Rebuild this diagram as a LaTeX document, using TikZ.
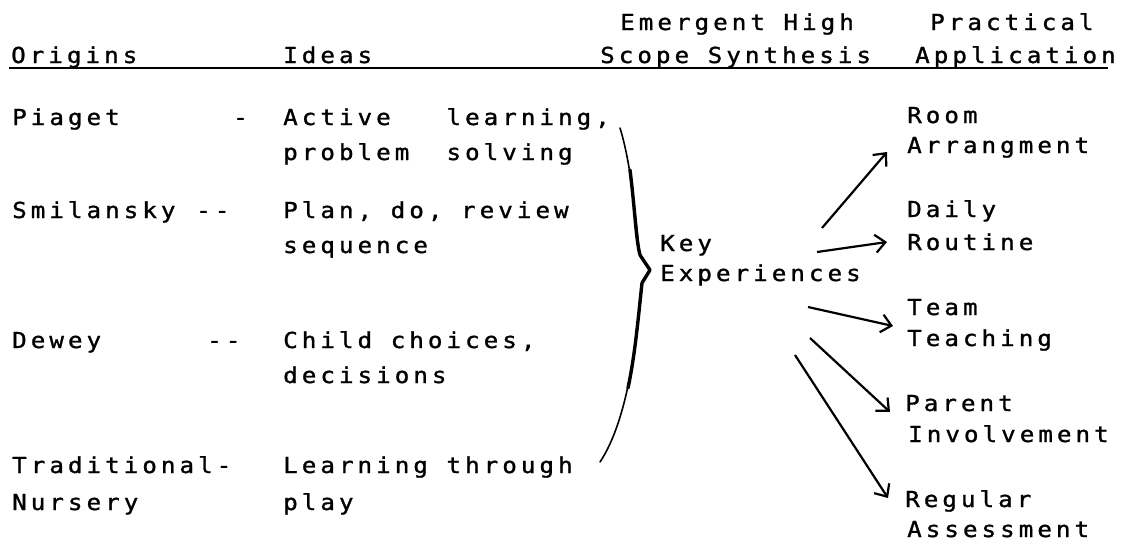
\documentclass[tikz,border=0pt]{standalone}
\usepackage{fontspec}
\setmonofont{DejaVu Sans Mono}[FakeStretch=1.1, FakeBold=1.2, LetterSpace=18.3]
\usetikzlibrary{arrows.meta}

\begin{document}
\begin{tikzpicture}[
  x=1pt, y=-1pt,
  txt/.style={font=\ttfamily\fontsize{22}{26}\selectfont, inner sep=0pt, anchor=base west},
  arrow/.style={-{Straight Barb[length=10pt,width=18pt]}, line width=2.2pt},
  brace/.style={line width=1.6pt, line cap=round, line join=round}
]
  \useasboundingbox (0,0) rectangle (1146,544);

  % column heads
  \node[txt] (emergent) at (620,30) {Emergent High};
  \node[txt] (practical) at (930,30) {Practical};
  \node[txt] (origins) at (11,63) {Origins};
  \node[txt] (ideas) at (283,63) {Ideas};
  \node[txt] (synthesis) at (600,63) {Scope Synthesis};
  \node[txt] (application) at (915,63) {Application};
  \draw[line width=1.8pt] (9,68) -- (1108,68);

  % origins and their ideas
  \node[txt] (piaget) at (12,125) {Piaget};
  \node[txt] (piagetdash) at (233,125) {-};
  \node[txt] (active) at (283,125) {Active~~~learning,};
  \node[txt] (problem) at (283,160) {problem~~solving};

  \node[txt] (smilansky) at (12,218) {Smilansky};
  \node[txt] (smilanskydash) at (196,218) {--};
  \node[txt] (plan) at (283,218) {Plan, do, review};
  \node[txt] (sequence) at (283,253) {sequence};

  \node[txt] (dewey) at (12,348) {Dewey};
  \node[txt] (deweydash) at (207,348) {--};
  \node[txt] (choices) at (283,348) {Child choices,};
  \node[txt] (decisions) at (283,383) {decisions};

  \node[txt] (traditional) at (12,473) {Traditional-};
  \node[txt] (nursery) at (12,510) {Nursery};
  \node[txt] (learning) at (283,473) {Learning through};
  \node[txt] (play) at (283,510) {play};

  % the brace gathering the ideas
  \draw[brace] (620,128) .. controls (633,170) and (636,230) .. (640,255)
    -- (650,270) -- (642,283) .. controls (637,340) and (628,420) .. (600,462);
  \draw[brace, line width=3.4pt] (630,170) .. controls (635,210) and (636,240) .. (640,255)
    -- (650,270) -- (642,283) .. controls (638,320) and (635,355) .. (628,388);

  \node[txt] (key) at (660,251) {Key};
  \node[txt] (experiences) at (660,281) {Experiences};

  % practical applications
  \node[txt] (room) at (907,123) {Room};
  \node[txt] (arrangment) at (907,153) {Arrangment};
  \node[txt] (daily) at (907,217) {Daily};
  \node[txt] (routine) at (907,250) {Routine};
  \node[txt] (team) at (907,315) {Team};
  \node[txt] (teaching) at (907,346) {Teaching};
  \node[txt] (parent) at (905,411) {Parent};
  \node[txt] (involvement) at (908,442) {Involvement};
  \node[txt] (regular) at (905,507) {Regular};
  \node[txt] (assessment) at (907,537) {Assessment};

  \draw[arrow] ([shift={(162,-53)}]experiences.base west) -- ([shift={(-20,-1)}]arrangment.base west);
  \draw[arrow] ([shift={(157,-29)}]experiences.base west) -- ([shift={(-20,-8)}]routine.base west);
  \draw[arrow] ([shift={(148,26)}]experiences.base west) -- ([shift={(-14,-20)}]teaching.base west);
  \draw[arrow] ([shift={(150,57)}]experiences.base west) -- ([shift={(-15,1)}]parent.base west);
  \draw[arrow] ([shift={(135,74)}]experiences.base west) -- ([shift={(-17,-9)}]regular.base west);
\end{tikzpicture}
\end{document}
